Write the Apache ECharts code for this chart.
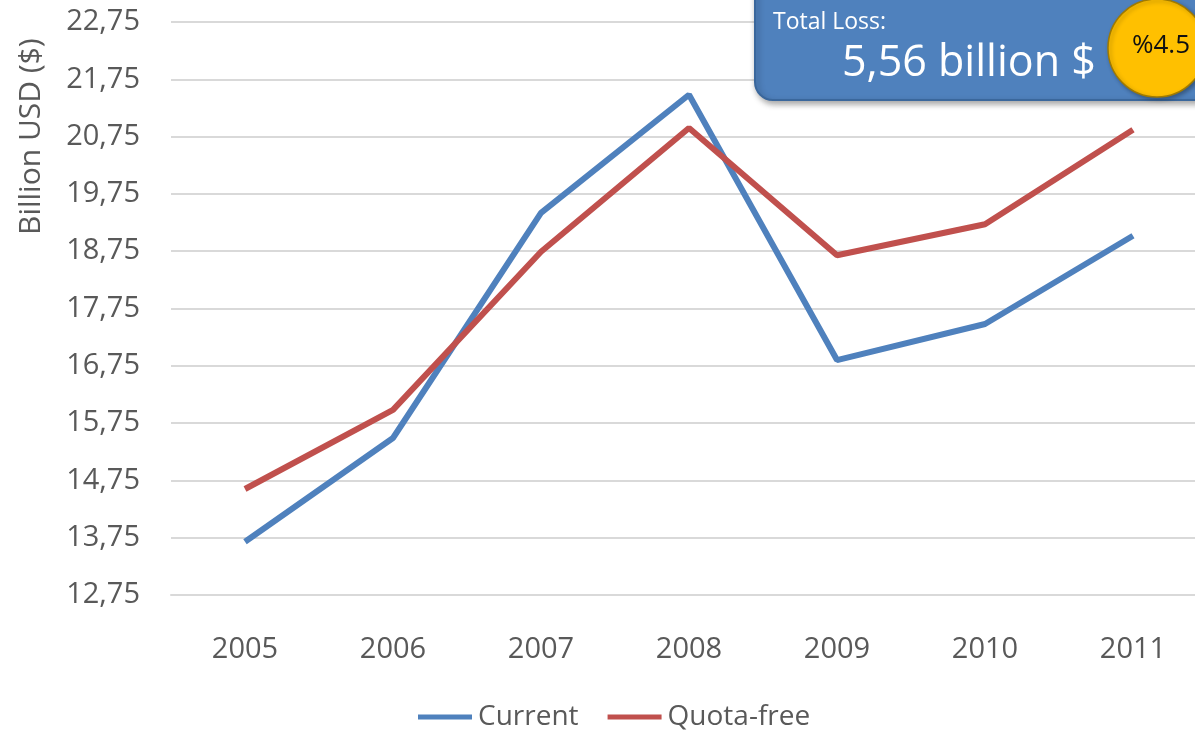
<!DOCTYPE html>
<html>
<head>
<meta charset="utf-8">
<script src="https://cdn.jsdelivr.net/npm/echarts@6/dist/echarts.min.js"></script>
<style>
html,body{margin:0;padding:0;background:#fff;}
#chart{width:1195px;height:733px;}
</style>
</head>
<body>
<div id="chart"></div>
<script>
const years = ['2005','2006','2007','2008','2009','2010','2011'];
const currentValues = [13.68, 15.49, 19.42, 21.48, 16.85, 17.48, 19.02];
const quotaFreeValues = [14.60, 15.98, 18.74, 20.90, 18.68, 19.22, 20.87];
const seriesNames = ['Current', 'Quota-free'];
const yAxisTitle = 'Billion USD ($)';
const yMin = 12.75, yMax = 22.75, yStep = 1;
const boxLabel = 'Total Loss:';
const boxValue = '5,56 billion $';
const badgeText = '%4.5';

const FONT = '"Open Sans", "Liberation Sans", sans-serif';
const chart = echarts.init(document.getElementById('chart'), null, {renderer: 'canvas'});
chart.setOption({
  animation: false,
  backgroundColor: '#ffffff',
  grid: {left: 171, width: 1036, top: 22, height: 573, containLabel: false, outerBoundsMode: 'none'},
  legend: {
    data: seriesNames,
    bottom: -3,
    left: 413,
    itemWidth: 54,
    itemHeight: 5,
    itemGap: 29,
    icon: 'rect',
    textStyle: {fontFamily: FONT, fontSize: 28, color: '#595959', padding: [0,0,0,1]}
  },
  xAxis: {
    type: 'category',
    data: years,
    boundaryGap: true,
    axisLine: {show: true, lineStyle: {color: '#d9d9d9', width: 2}},
    axisTick: {show: false},
    axisLabel: {fontFamily: FONT, fontSize: 29, color: '#595959', margin: 40}
  },
  yAxis: {
    type: 'value',
    min: yMin,
    max: yMax,
    interval: yStep,
    axisLine: {show: false},
    axisTick: {show: false},
    splitLine: {show: true, lineStyle: {color: '#d9d9d9', width: 2}},
    axisLabel: {
      fontFamily: FONT, fontSize: 29, color: '#595959', margin: 31,
      formatter: v => v.toFixed(2).replace('.', ',')
    }
  },
  series: [
    {name: seriesNames[0], type: 'line', data: currentValues, symbol: 'none',
     lineStyle: {color: '#4f81bd', width: 6}, itemStyle: {color: '#4f81bd'}},
    {name: seriesNames[1], type: 'line', data: quotaFreeValues, symbol: 'none',
     lineStyle: {color: '#c0504d', width: 6}, itemStyle: {color: '#c0504d'}}
  ],
  graphic: [
    {type: 'text', x: 16, y: 235, rotation: Math.PI/2, z: 100,
     style: {text: yAxisTitle, font: '30px ' + FONT, fill: '#595959'}},
    {type: 'rect', z: 100, shape: {x: 755, y: -30, width: 470, height: 130, r: 18},
     style: {fill: '#4f81bd', stroke: '#3a679c', lineWidth: 2,
             shadowBlur: 6, shadowOffsetX: 2, shadowOffsetY: 3, shadowColor: 'rgba(0,0,0,0.35)'}},
    {type: 'text', x: 773, y: 22, z: 101,
     style: {text: boxLabel, font: '23px ' + FONT, fill: '#ffffff', verticalAlign: 'middle'}},
    {type: 'text', x: 842, y: 64, z: 101,
     style: {text: boxValue, font: '43px ' + FONT, fill: '#ffffff', verticalAlign: 'middle'}},
    {type: 'circle', z: 102, shape: {cx: 1157, cy: 48, r: 49},
     style: {fill: '#ffc000', stroke: '#a07a00', lineWidth: 1.5,
             shadowBlur: 4, shadowOffsetX: 2, shadowOffsetY: 2, shadowColor: 'rgba(0,0,0,0.3)'}},
    {type: 'text', x: 1132, y: 46, z: 103,
     style: {text: badgeText, font: '26px ' + FONT, fill: '#111111', verticalAlign: 'middle'}}
  ]
});
</script>
</body>
</html>
